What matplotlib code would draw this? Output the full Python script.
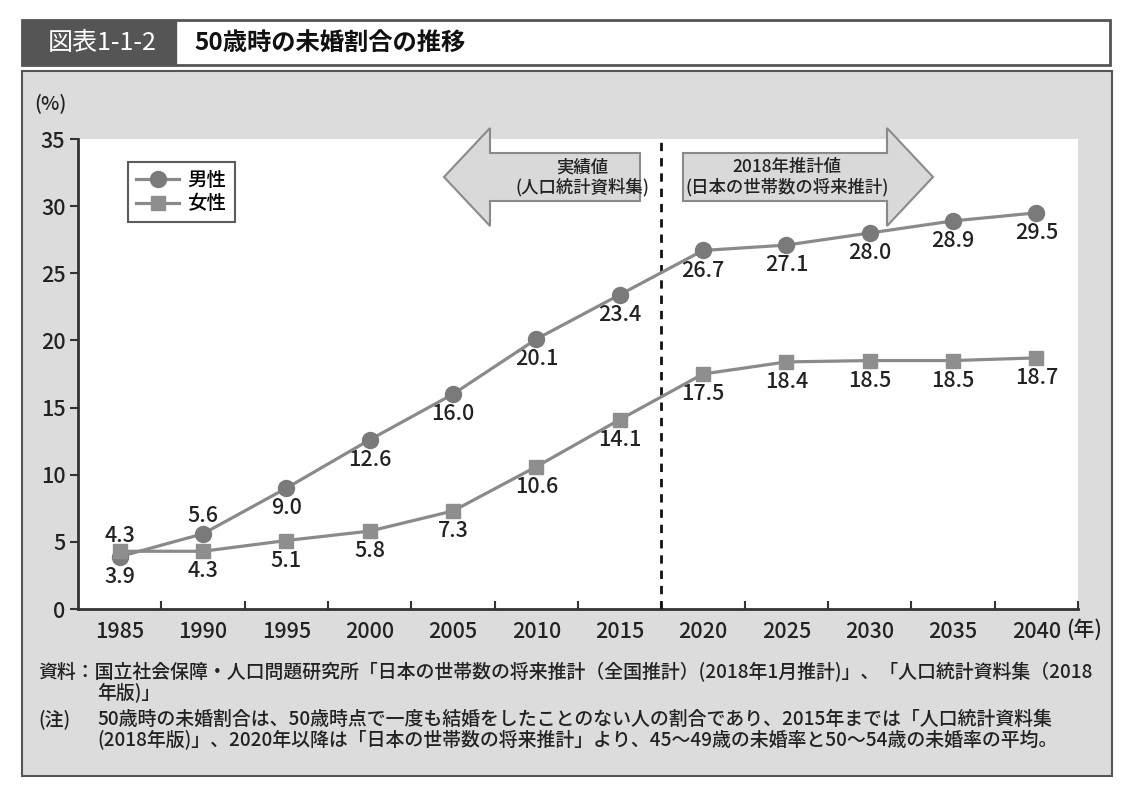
import matplotlib
matplotlib.use("Agg")
import matplotlib.pyplot as plt
from matplotlib.patches import Rectangle, Polygon
from matplotlib.ticker import FixedLocator, NullFormatter

plt.rcParams['font.family'] = ['Noto Sans CJK JP', 'DejaVu Sans']
plt.rcParams['font.weight'] = 'medium'

# データ
years = ['1985', '1990', '1995', '2000', '2005', '2010', '2015',
         '2020', '2025', '2030', '2035', '2040']
male = [3.9, 5.6, 9.0, 12.6, 16.0, 20.1, 23.4, 26.7, 27.1, 28.0, 28.9, 29.5]
female = [4.3, 4.3, 5.1, 5.8, 7.3, 10.6, 14.1, 17.5, 18.4, 18.5, 18.5, 18.7]
# ラベル位置: 1=上, -1=下
male_pos = [-1, 1, -1, -1, -1, -1, -1, -1, -1, -1, -1, -1]
female_pos = [1, -1, -1, -1, -1, -1, -1, -1, -1, -1, -1, -1]
yticks = [0, 5, 10, 15, 20, 25, 30, 35]

W, H = 1132, 785
fig = plt.figure(figsize=(W / 100, H / 100), dpi=100)
fig.patch.set_facecolor('white')


def px(x, y):
    return x / W, 1 - y / H


def rect(x0, y0, x1, y1, **kw):
    fx, fy = px(x0, y1)
    r = Rectangle((fx, fy), (x1 - x0) / W, (y1 - y0) / H,
                  transform=fig.transFigure, **kw)
    fig.add_artist(r)
    return r


def poly(pts, **kw):
    p = Polygon([px(x, y) for x, y in pts], closed=True,
                transform=fig.transFigure, **kw)
    fig.add_artist(p)
    return p


# タイトルバー
rect(22, 20, 1110, 65, facecolor='white', edgecolor='#555555', lw=2, zorder=-2)
rect(22, 20, 176, 65, facecolor='#555555', edgecolor='#555555', lw=1, zorder=-1)
fig.text(*px(102, 43), '図表1-1-2', color='white', fontsize=18, fontweight='normal',
         ha='center', va='center')
fig.text(*px(194, 43), '50歳時の未婚割合の推移', color='#111111', fontsize=17.5,
         fontweight='bold', ha='left', va='center')

# 背景パネル
rect(22, 71, 1112, 776, facecolor='#dcdcdc', edgecolor='#555555', lw=1.5, zorder=-2)

# グラフ
ax = fig.add_axes([78 / W, (H - 609) / H, 1000 / W, 470 / H])
ax.set_facecolor('white')
x = list(range(len(years)))

ax.plot(x, male, color='#8a8a8a', lw=2.3, marker='o', ms=11.5,
        markerfacecolor='#7a7a7a', markeredgecolor='#7a7a7a', label='男性', zorder=4)
ax.plot(x, female, color='#8a8a8a', lw=2.3, marker='s', ms=10.5,
        markerfacecolor='#8e8e8e', markeredgecolor='#8e8e8e', label='女性', zorder=4)

for xi, v, p in zip(x, male, male_pos):
    ax.annotate(f'{v:.1f}', (xi, v), xytext=(0, 13 if p > 0 else -14.5),
                textcoords='offset points',
                ha='center', va='center', fontsize=15.5, color='#222222')
for xi, v, p in zip(x, female, female_pos):
    ax.annotate(f'{v:.1f}', (xi, v), xytext=(0, 11 if p > 0 else -14.5),
                textcoords='offset points',
                ha='center', va='center', fontsize=15.5, color='#222222')

ax.axvline(6.5, color='#111111', lw=2, ls=(0, (3, 2.5)), zorder=3)

ax.set_xlim(-0.5, len(years) - 0.5)
ax.set_ylim(0, 35)
ax.set_yticks(yticks)
ax.xaxis.set_major_locator(FixedLocator([i + 0.5 for i in range(len(years))]))
ax.xaxis.set_major_formatter(NullFormatter())
ax.xaxis.set_minor_locator(FixedLocator(x))
ax.set_xticklabels(years, minor=True)
ax.tick_params(axis='x', which='major', direction='in', length=6, width=1.5, color='#333333')
ax.tick_params(axis='x', which='minor', length=0, pad=9, labelsize=15.5, labelcolor='#222222')
ax.tick_params(axis='y', direction='out', length=6, width=1.5, color='#333333',
               labelsize=15.5, labelcolor='#222222', pad=3)

for s in ['top', 'right']:
    ax.spines[s].set_visible(False)
for s in ['left', 'bottom']:
    ax.spines[s].set_color('#333333')
    ax.spines[s].set_linewidth(2)

leg = ax.legend(loc='upper left', bbox_to_anchor=(0.04, 0.972), fontsize=14,
                frameon=True, fancybox=False, edgecolor='#333333',
                handlelength=2.2, borderpad=0.45, labelspacing=0.25, handletextpad=0.4)
leg.get_frame().set_linewidth(1.5)

fig.text(*px(50, 103), '(%)', fontsize=14, ha='center', va='center', color='#222222')
fig.text(*px(1066, 630), '(年)', fontsize=15, ha='left', va='center', color='#222222')

# 矢印
arrow_kw = dict(facecolor='#d9d9d9', edgecolor='#8a8a8a', lw=1.5, zorder=5)
poly([(444, 177), (490, 128), (490, 153), (640, 153), (640, 201),
      (490, 201), (490, 226)], **arrow_kw)
poly([(933, 177), (887, 128), (887, 153), (683, 153), (683, 201),
      (887, 201), (887, 226)], **arrow_kw)
fig.text(*px(582, 167), '実績値', fontsize=12.5, ha='center', va='center', color='#222222', zorder=6)
fig.text(*px(582, 187), '(人口統計資料集)', fontsize=12.5, ha='center', va='center', color='#222222', zorder=6)
fig.text(*px(787, 167), '2018年推計値', fontsize=12.5, ha='center', va='center', color='#222222', zorder=6)
fig.text(*px(787, 187), '(日本の世帯数の将来推計)', fontsize=12.5, ha='center', va='center', color='#222222', zorder=6)

# 注記
note_kw = dict(fontsize=13.6, ha='left', va='center', color='#222222')
fig.text(*px(38, 672), '資料：国立社会保障・人口問題研究所「日本の世帯数の将来推計（全国推計）(2018年1月推計)」、「人口統計資料集（2018', **note_kw)
fig.text(*px(97, 693), '年版)」', **note_kw)
fig.text(*px(38, 719), '(注)', **note_kw)
fig.text(*px(97, 719), '50歳時の未婚割合は、50歳時点で一度も結婚をしたことのない人の割合であり、2015年までは「人口統計資料集', **note_kw)
fig.text(*px(97, 740), '(2018年版)」、2020年以降は「日本の世帯数の将来推計」より、45～49歳の未婚率と50～54歳の未婚率の平均。', **note_kw)

fig.savefig('out.png', dpi=100)
